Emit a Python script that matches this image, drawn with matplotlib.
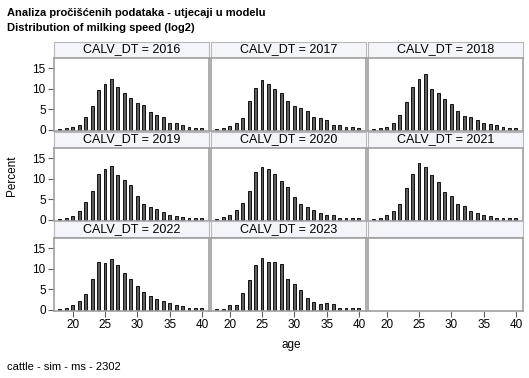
import matplotlib.pyplot as plt
import numpy as np

plt.rcParams['font.family'] = ['Liberation Sans', 'DejaVu Sans']

# age bins (log2 milking speed histogram, percent per bin)
ages = list(range(18, 41))

pct_2016 = [0.2, 0.3, 0.6, 1.1, 3.2, 5.7, 9.8, 11.3, 12.3, 10.4, 9.1, 7.7, 6.6, 6.0, 4.2, 3.5, 3.0, 1.7, 1.7, 1.1, 0.7, 0.3, 0.5]
pct_2017 = [0.25, 0.5, 1.0, 1.5, 2.8, 6.9, 10.1, 12.2, 11.1, 10.0, 8.9, 7.1, 5.8, 5.2, 4.5, 3.0, 2.9, 2.3, 1.1, 1.1, 0.7, 0.7, 0.5]
pct_2018 = [0.15, 0.3, 0.7, 1.5, 3.7, 6.7, 10.5, 12.4, 13.6, 10.0, 8.9, 7.4, 6.2, 4.5, 3.4, 3.0, 2.3, 1.6, 1.4, 1.1, 0.7, 0.5, 0.5]
pct_2019 = [0.25, 0.4, 1.0, 2.0, 4.3, 7.0, 11.3, 12.4, 13.2, 10.9, 9.7, 8.4, 5.7, 3.8, 3.2, 2.5, 1.8, 1.1, 1.0, 0.7, 0.4, 0.4, 0.3]
pct_2020 = [0.25, 0.7, 1.2, 2.3, 4.0, 7.0, 11.6, 12.9, 12.5, 11.3, 9.4, 7.9, 5.5, 3.9, 3.2, 2.3, 1.5, 1.1, 1.1, 0.5, 0.5, 0.4, 0.3]
pct_2021 = [0.25, 0.5, 1.1, 2.0, 3.8, 7.7, 11.3, 14.0, 13.0, 10.9, 9.2, 6.7, 5.7, 3.9, 3.4, 2.0, 1.6, 1.2, 0.9, 0.5, 0.5, 0.5, 0.3]
pct_2022 = [0.25, 0.5, 1.2, 2.2, 3.9, 7.5, 11.6, 11.4, 12.3, 10.9, 8.9, 7.6, 5.7, 4.4, 3.3, 2.5, 2.2, 1.6, 1.1, 1.0, 0.5, 0.3, 0.3]
pct_2023 = [0.25, 0.25, 1.1, 1.2, 4.0, 7.2, 10.9, 12.6, 11.6, 11.6, 11.1, 7.4, 6.4, 4.7, 2.8, 1.8, 1.4, 1.6, 1.3, 0.5, 0.5, 0.3, 0.5]

years = [2016, 2017, 2018, 2019, 2020, 2021, 2022, 2023]
series = [pct_2016, pct_2017, pct_2018, pct_2019, pct_2020, pct_2021, pct_2022, pct_2023]

W, H = 529, 378
fig = plt.figure(figsize=(W / 100, H / 100), dpi=100)

col_left = [54, 211, 368]
col_w = 155
row_top = [41.5, 131.5, 221.5]
strip_h = 16
plot_h = 73.5

frame_col = '#a0a0a0'
strip_col = '#f3f5fb'


def px(x, y, w, h):
    # pixel box (top-left origin) -> figure fraction
    return [x / W, 1 - (y + h) / H, w / W, h / H]


for i in range(9):
    r, c = divmod(i, 3)
    x0 = col_left[c]
    y0 = row_top[r]

    sax = fig.add_axes(px(x0, y0, col_w, strip_h))
    sax.set_facecolor(strip_col)
    sax.set_xticks([])
    sax.set_yticks([])
    for s in sax.spines.values():
        s.set_color('#b8b8b8')
        s.set_linewidth(0.8)

    ax = fig.add_axes(px(x0, y0 + strip_h, col_w, plot_h))
    for s in ax.spines.values():
        s.set_color(frame_col)
        s.set_linewidth(1.2)
    ax.set_xlim(17.1, 41.1)
    ax.set_ylim(-0.35, 17.7)
    ax.set_xticks([20, 25, 30, 35, 40])
    ax.set_yticks([0, 5, 10, 15])
    ax.tick_params(length=4, width=0.8, color='#606060', labelsize=8.5, pad=2)

    if i < len(years):
        sax.text(0.5, 0.5, 'CALV_DT = %d' % years[i], ha='center', va='center',
                 fontsize=9, transform=sax.transAxes)
        ax.bar(ages, series[i], width=0.45, color='#5e5e5e', edgecolor='#111111', linewidth=0.7)

    if c != 0:
        ax.tick_params(axis='y', left=False, labelleft=False)
    if r != 2:
        ax.tick_params(axis='x', bottom=False, labelbottom=False)

fig.text(7 / W, 1 - 13 / H, 'Analiza pročišćenih podataka - utjecaji u modelu', fontsize=8,
         fontweight='bold', va='center')
fig.text(7 / W, 1 - 28 / H, 'Distribution of milking speed (log2)', fontsize=8,
         fontweight='bold', va='center')
fig.text(12 / W, 1 - 176 / H, 'Percent', rotation=90, fontsize=8.5, ha='center', va='center')
fig.text(291 / W, 1 - 345 / H, 'age', fontsize=8.5, ha='center', va='center')
fig.text(7 / W, 1 - 367 / H, 'cattle - sim - ms - 2302', fontsize=8, va='center')

fig.savefig('out.png', dpi=100)
